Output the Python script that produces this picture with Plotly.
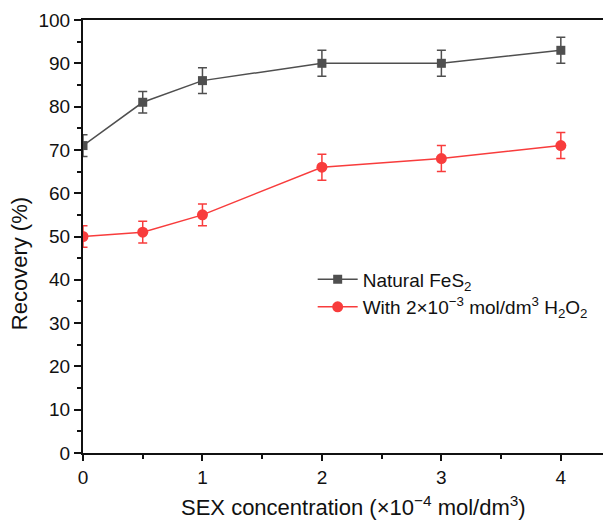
import plotly.graph_objects as go

conc = [0, 0.5, 1, 2, 3, 4]
natural = [71, 81, 86, 90, 90, 93]
natural_err = [2.5, 2.5, 3, 3, 3, 3]
h2o2 = [50, 51, 55, 66, 68, 71]
h2o2_err = [2.5, 2.5, 2.5, 3, 3, 3]

grey = "#4f4f4f"
red = "#f83c3c"

fig = go.Figure()
fig.add_trace(go.Scatter(
    x=conc, y=natural, mode="lines+markers", name="Natural FeS<sub>2</sub>",
    line=dict(color=grey, width=1.5),
    marker=dict(symbol="square", size=9, color=grey),
    error_y=dict(type="data", array=natural_err, color=grey, thickness=1.5, width=4.5),
))
fig.add_trace(go.Scatter(
    x=conc, y=h2o2, mode="lines+markers",
    name="With 2×10<sup>−3</sup> mol/dm<sup>3</sup> H<sub>2</sub>O<sub>2</sub>",
    line=dict(color=red, width=1.5),
    marker=dict(symbol="circle", size=11, color=red),
    error_y=dict(type="data", array=h2o2_err, color=red, thickness=1.5, width=4.5),
))

font_family = "Liberation Sans, Arial, sans-serif"
fig.update_layout(
    width=603, height=514,
    margin=dict(l=75, r=0, t=12, b=69, autoexpand=False),
    paper_bgcolor="white", plot_bgcolor="white",
    font=dict(family=font_family, size=19, color="#111"),
    showlegend=True,
    legend=dict(x=0.435, y=0.445, xanchor="left", yanchor="top",
                bgcolor="rgba(0,0,0,0)", font=dict(size=19), tracegroupgap=0,
                itemwidth=40),
    xaxis=dict(
        range=[0, 4.42], tickvals=[0, 1, 2, 3, 4], ticks="outside", ticklen=6,
        tickwidth=1.5, tickcolor="#111", showline=True, linecolor="#111", linewidth=2,
        mirror=True, showgrid=False, zeroline=False,
        minor=dict(tickvals=[0.5, 1.5, 2.5, 3.5], ticks="outside", ticklen=4,
                   tickwidth=1.5, tickcolor="#111", showgrid=False),
        tickfont=dict(size=19),
    ),
    yaxis=dict(
        range=[0, 100], dtick=10, ticks="outside", ticklen=7, tickwidth=1.5,
        tickcolor="#111", showline=True, linecolor="#111", linewidth=2,
        showgrid=False, zeroline=False,
        minor=dict(dtick=5, ticks="outside", ticklen=4, tickwidth=1.5,
                   tickcolor="#111", showgrid=False),
        tickfont=dict(size=19),
    ),
    annotations=[
        dict(text="SEX concentration (×10<sup>−4</sup> mol/dm<sup>3</sup>)",
             xref="paper", yref="paper", x=0.513, y=-0.122,
             xanchor="center", yanchor="middle", showarrow=False,
             font=dict(size=22)),
        dict(text="Recovery (%)", textangle=-90,
             xref="paper", yref="paper", x=-0.119, y=0.4365,
             xanchor="center", yanchor="middle", showarrow=False,
             font=dict(size=22)),
    ],
)

fig.write_html("out.html")
